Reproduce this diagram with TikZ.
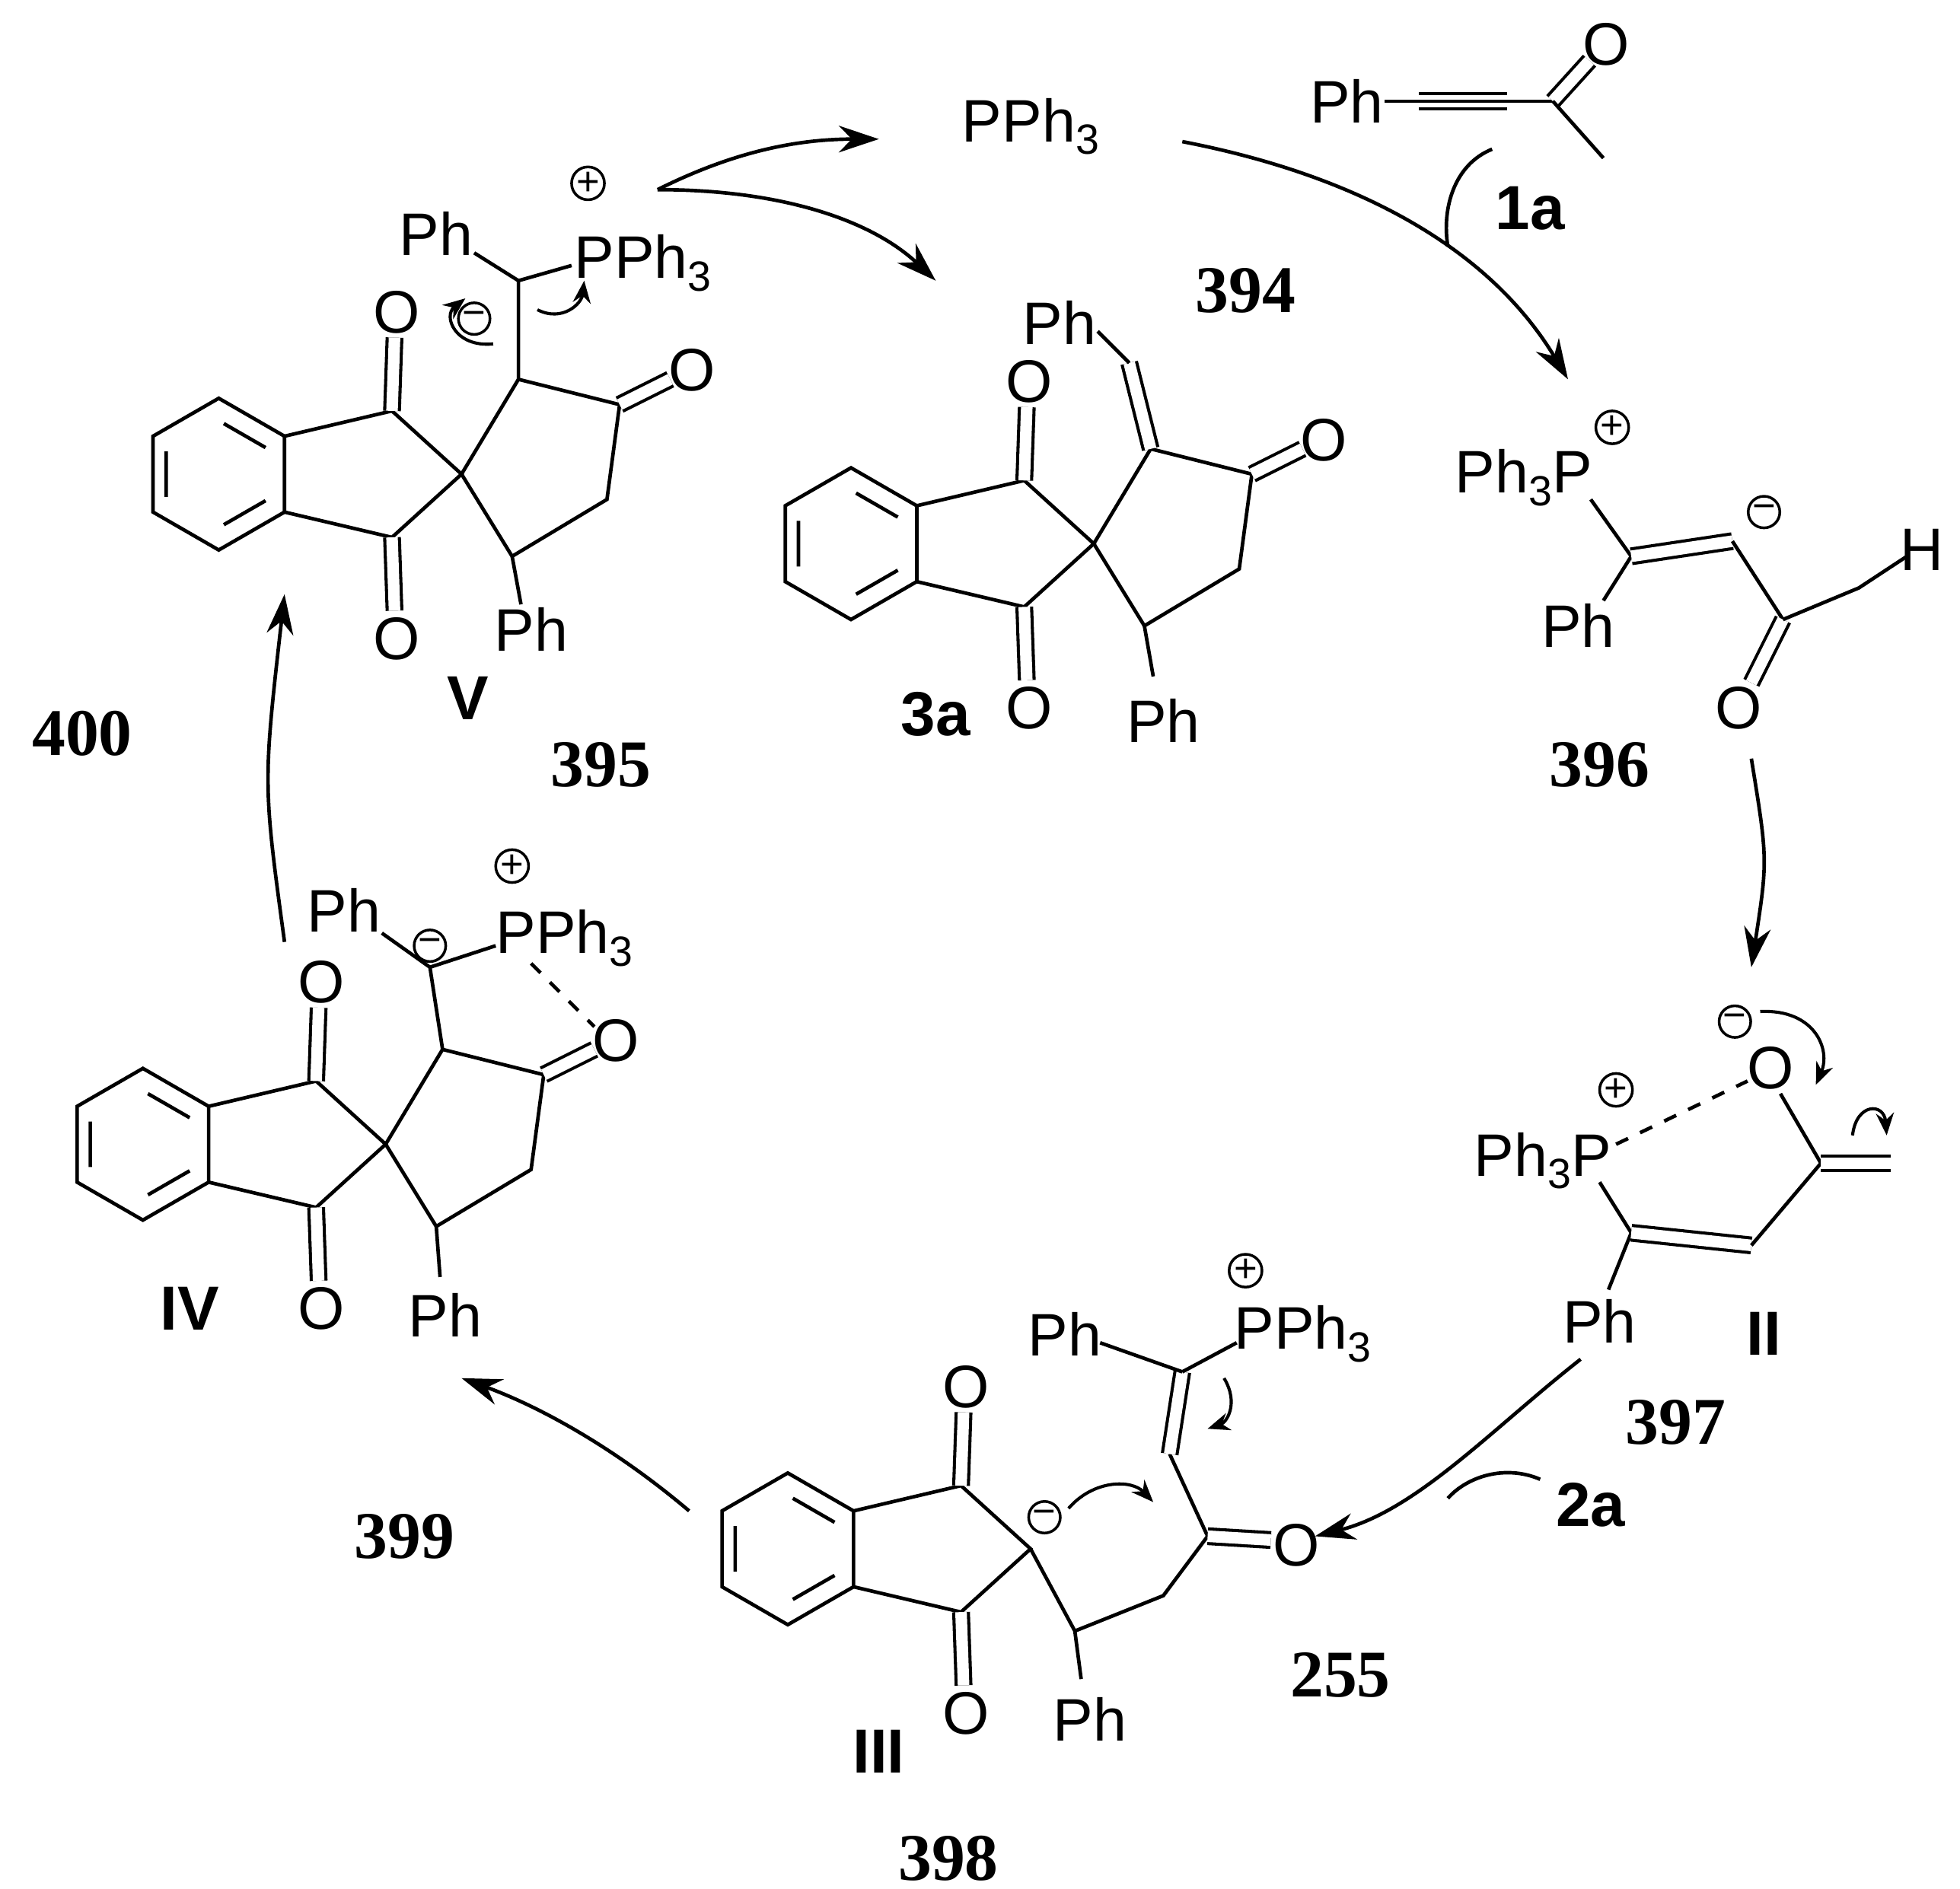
\documentclass[tikz,border=0pt]{standalone}
\usepackage{fontspec}
\setmainfont{Liberation Serif}
\newfontfamily\chemf{Liberation Sans}
\usetikzlibrary{arrows.meta,calc}
\newcommand\sbt[1]{\raisebox{-0.4ex}{\fontsize{9.5}{10}\selectfont #1}}
\tikzset{
 bd/.style={line width=0.8pt},
 db/.style={line width=0.7pt,double,double distance=2.6pt},
 atm/.style={font=\chemf\fontsize{13.5}{14}\selectfont,inner sep=1pt},
 lab/.style={font=\chemf\bfseries\fontsize{14}{14}\selectfont},
 num/.style={font=\bfseries\fontsize{15}{15}\selectfont},
 chg/.style={circle,draw,line width=0.6pt,inner sep=0pt,minimum size=0.25cm,font=\chemf\fontsize{9}{9}\selectfont},
 arr/.style={line width=0.8pt,-{Stealth[length=9pt,width=6pt]}},
 sarr/.style={line width=0.7pt,-{Stealth[length=5pt,width=4pt]}},
 indane/.pic={
  \draw[bd] (0,0)--(-55,-50)--(-140,-30)--(-140,30)--(-55,50)--cycle;
  \draw[bd] (-140,-30)--(-192,-60)--(-244,-30)--(-244,30)--(-192,60)--(-140,30);
  \draw[bd] (-155,21)--(-188,40) (-233.6,18)--(-233.6,-18) (-188,-40)--(-155,-21);
  \draw[db] (-55,-50)--(-53,-108); \node[atm] at (-51,-128) {O};
  \draw[db] (-55,50)--(-53,108); \node[atm] at (-51,130) {O};
 },
 ring/.pic={
  \draw[bd] (0,0)--(45,-75)--(125,-55)--(115,20)--(40,65)--cycle;
  \draw[db] (125,-55)--(165,-75); \node[atm] at (182,-82) {O};
 }
}
\begin{document}
\begin{tikzpicture}[x=0.01cm,y=-0.01cm]
\useasboundingbox (0,0) rectangle (1550,1494);
% top reagents
\node[atm] (pph3) at (815,100) {PPh\sbt3};
\node[atm] (ph1a) at (1065,80) {Ph};
\draw[bd] (1095,80)--(1122,80);
\draw[bd] (1122,74)--(1192,74) (1122,80)--(1192,80) (1122,86)--(1192,86);
\draw[bd] (1192,80)--(1228,80); \draw[db] (1228,80)--(1257,48);
\node[atm] at (1270,35) {O};
\draw[bd] (1228,80)--(1268,125);
\node[lab] at (1210,165) {1a};
\node[num] at (985,230) {394};
% V
\pic at (365,375) {indane}; \pic at (365,375) {ring};
\draw[bd] (410,300)--(410,222) (410,222)--(375,200) (410,222)--(452,210);
\node[atm] at (345,185) {Ph};
\node[atm,anchor=west] (pV) at (450,208) {PPh\sbt3};
\node[chg] at (465,145) {+};
\node[chg] at (375,252) {−};
\draw[bd] (405,440)--(412,478); \node[atm] at (420,498) {Ph};
\node[lab] at (370,552) {V};
\draw[sarr] (390,272) .. controls (360,275) and (350,250) .. (368,236);
\draw[sarr] (425,245) .. controls (445,255) and (460,240) .. (462,222);
\node[num] at (475,605) {395};
% 3a
\pic at (865,430) {indane}; \pic at (865,430) {ring};
\draw[db] (910,355)--(893,287); \draw[bd] (893,287)--(868,262);
\node[atm] at (838,255) {Ph};
\draw[bd] (905,495)--(912,535); \node[atm] at (920,570) {Ph};
\node[lab] at (740,565) {3a};
% 396
\node[atm] at (1205,378) {Ph\sbt3P};
\node[chg] at (1275,338) {+};
\draw[bd] (1258,395)--(1290,440) (1290,440)--(1268,475);
\node[atm] at (1248,495) {Ph};
\draw[db] (1290,440)--(1370,428);
\node[chg] at (1395,405) {−};
\draw[bd] (1370,428)--(1410,490);
\draw[db] (1410,490)--(1385,540); \node[atm] at (1375,560) {O};
\draw[bd] (1410,490)--(1470,465)--(1508,440);
\node[atm] at (1520,435) {H};
\node[num] at (1265,605) {396};
% II
\node[atm] at (1220,918) {Ph\sbt3P};
\node[chg] at (1278,862) {+};
\draw[bd] (1265,935)--(1290,975) (1290,975)--(1272,1020);
\node[atm] at (1265,1045) {Ph};
\draw[db] (1290,975)--(1385,985);
\draw[bd] (1385,985)--(1440,920)--(1408,865);
\node[atm] at (1400,845) {O};
\draw[db] (1440,920)--(1495,920);
\node[chg] at (1372,808) {−};
\draw[bd,dashed] (1278,905)--(1382,855);
\draw[sarr] (1392,800) .. controls (1435,798) and (1448,830) .. (1436,858);
\draw[sarr] (1465,898) .. controls (1468,872) and (1490,872) .. (1492,898);
\node[lab] at (1395,1055) {II};
\node[num] at (1325,1125) {397};
% III
\pic at (815,1225) {indane};
\draw[bd] (815,1225)--(850,1290)--(855,1328) (850,1290)--(920,1262)--(955,1215)--(925,1150);
\node[atm] at (862,1360) {Ph};
\draw[db] (955,1215)--(1005,1218); \node[atm] (OIII) at (1025,1222) {O};
\draw[db] (925,1150)--(935,1085);
\draw[bd] (935,1085)--(870,1062) (935,1085)--(978,1062);
\node[atm] at (842,1055) {Ph};
\node[atm,anchor=west] at (972,1055) {PPh\sbt3};
\node[chg] at (985,1005) {+};
\node[chg] at (826,1200) {−};
\draw[sarr] (845,1193) .. controls (865,1170) and (895,1170) .. (912,1188);
\draw[sarr] (968,1090) .. controls (980,1110) and (970,1125) .. (955,1130);
\node[lab] at (695,1385) {III};
\node[num] at (1060,1325) {255};
\node[num] at (750,1470) {398};
% IV
\pic at (305,905) {indane}; \pic at (305,905) {ring};
\draw[bd] (350,830)--(340,765) (340,765)--(302,738) (340,765)--(392,748);
\node[atm] at (272,720) {Ph};
\node[atm,anchor=west] at (388,742) {PPh\sbt3};
\node[chg] at (405,685) {+};
\node[chg] at (340,748) {−};
\draw[bd,dashed] (420,762)--(470,812);
\draw[bd] (345,970)--(348,1010); \node[atm] at (352,1040) {Ph};
\node[lab] at (150,1035) {IV};
\node[num] at (320,1215) {399};
\node[num] at (65,580) {400};
\node[lab] at (1258,1190) {2a};
% cycle arrows
\draw[arr] (935,112) .. controls (1080,140) and (1180,200) .. (1240,300);
\draw[bd] (1180,118) .. controls (1150,130) and (1140,165) .. (1145,195);
\draw[arr] (1385,600) .. controls (1398,680) .. (1385,765);
\draw[arr] (1250,1075) .. controls (1180,1130) and (1120,1195) .. (1040,1215);
\draw[bd] (1218,1170) .. controls (1190,1158) and (1160,1168) .. (1145,1185);
\draw[arr] (545,1195) .. controls (480,1140) and (420,1110) .. (365,1090);
\draw[arr] (225,745) .. controls (208,620) .. (225,470);
\draw[arr] (520,150) .. controls (580,120) and (630,110) .. (695,110);
\draw[arr] (520,150) .. controls (620,150) and (690,175) .. (740,222);
\end{tikzpicture}
\end{document}
